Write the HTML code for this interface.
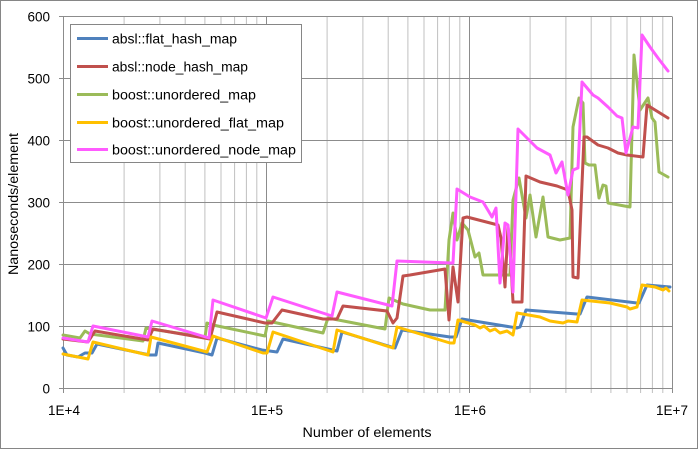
<!DOCTYPE html>
<html><head><meta charset="utf-8"><style>
html,body{margin:0;padding:0;background:#fff;}
svg{display:block;font-family:"Liberation Sans",sans-serif;}
</style></head><body>
<svg width="698" height="449" viewBox="0 0 698 449" xmlns="http://www.w3.org/2000/svg">
<rect x="0.5" y="0.5" width="697" height="448" fill="#fff" stroke="#868686"/>
<!-- minor vertical gridlines -->
<g stroke="#c0c0c0" stroke-width="1">
<line x1="124.1" y1="17" x2="124.1" y2="393"/><line x1="159.9" y1="17" x2="159.9" y2="393"/><line x1="185.2" y1="17" x2="185.2" y2="393"/><line x1="204.9" y1="17" x2="204.9" y2="393"/><line x1="221" y1="17" x2="221" y2="393"/><line x1="234.6" y1="17" x2="234.6" y2="393"/><line x1="246.4" y1="17" x2="246.4" y2="393"/><line x1="256.8" y1="17" x2="256.8" y2="393"/>
<line x1="327.1" y1="17" x2="327.1" y2="393"/><line x1="362.9" y1="17" x2="362.9" y2="393"/><line x1="388.2" y1="17" x2="388.2" y2="393"/><line x1="407.9" y1="17" x2="407.9" y2="393"/><line x1="424" y1="17" x2="424" y2="393"/><line x1="437.6" y1="17" x2="437.6" y2="393"/><line x1="449.4" y1="17" x2="449.4" y2="393"/><line x1="459.8" y1="17" x2="459.8" y2="393"/>
<line x1="530.1" y1="17" x2="530.1" y2="393"/><line x1="565.9" y1="17" x2="565.9" y2="393"/><line x1="591.2" y1="17" x2="591.2" y2="393"/><line x1="610.9" y1="17" x2="610.9" y2="393"/><line x1="627" y1="17" x2="627" y2="393"/><line x1="640.6" y1="17" x2="640.6" y2="393"/><line x1="652.4" y1="17" x2="652.4" y2="393"/><line x1="662.8" y1="17" x2="662.8" y2="393"/>
</g>
<!-- major gridlines -->
<g stroke="#8c8c8c" stroke-width="1">
<line x1="266.5" y1="17" x2="266.5" y2="393"/><line x1="469.5" y1="17" x2="469.5" y2="393"/><line x1="672.5" y1="17" x2="672.5" y2="393"/>
<line x1="59" y1="16.5" x2="672.5" y2="16.5"/><line x1="59" y1="78.5" x2="672.5" y2="78.5"/><line x1="59" y1="140.5" x2="672.5" y2="140.5"/><line x1="59" y1="202.5" x2="672.5" y2="202.5"/><line x1="59" y1="264.5" x2="672.5" y2="264.5"/><line x1="59" y1="326.5" x2="672.5" y2="326.5"/>
<line x1="63.5" y1="16.5" x2="63.5" y2="393"/>
<line x1="59" y1="388.5" x2="672.5" y2="388.5"/>
</g>
<!-- y labels -->
<g font-size="13.5" fill="#000" text-anchor="end">
<text x="50" y="21.5">600</text><text x="50" y="83.5">500</text><text x="50" y="145.5">400</text><text x="50" y="207.5">300</text><text x="50" y="269.5">200</text><text x="50" y="331.5">100</text><text x="50" y="393.5">0</text>
</g>
<g font-size="13.5" fill="#000" text-anchor="middle">
<text x="64" y="415">1E+4</text><text x="267" y="415">1E+5</text><text x="470" y="415">1E+6</text><text x="672" y="415">1E+7</text>
<text x="367" y="437" textLength="129" lengthAdjust="spacingAndGlyphs">Number of elements</text>
<text transform="translate(18,204) rotate(-90)" textLength="142" lengthAdjust="spacingAndGlyphs">Nanoseconds/element</text>
</g>
<g fill="none" stroke-width="3" stroke-linejoin="round" stroke-linecap="round">
<polyline stroke="#9BBB59" points="63,335 80,338 85,331 90,334 143,341 146,328 150,329 205,337 207,323 213,325 265,336 268,321 323,333 328,318 385,329 389,298 403,304 430,310 445,310 449,240 453,213 457,240 462,223 468,230 475,257 479,253 483,275 510,275 513,200 519,178 526,218 530,195 536,237 543,197 548,237 560,240 570,238 573,127 579,98 583,103 585,163 589,165 595,165 599,198 603,185 606,186 608,203 630,207 634,55 637,82 640,110 648,98 652,118 655,122 659,172 668,177"/>
<polyline stroke="#C0504D" points="63,339 88,342 95,331 148,340 153,329 210,339 217,312 265,323 272,323 282,310 323,319 337,319 343,306 387,311 393,323 397,318 403,276 410,275 445,269 449,320 453,267 458,302 463,218 467,217 498,225 501,238 505,287 508,227 510,247 513,302 522,302 526,176 540,182 557,186 568,190 572,210 573,277 578,278 584,137 587,137 598,145 608,148 618,153 627,155 643,157 647,105 668,118"/>
<polyline stroke="#FF5BFF" points="63,338 88,342 93,326 148,337 152,321 209,338 213,300 266,318 273,297 332,316 337,292 392,306 397,261 451,263 453,263 457,189 470,197 483,202 492,217 496,208 500,283 505,223 508,225 513,292 518,129 537,148 550,155 556,173 562,162 568,195 573,170 578,168 582,82 593,95 598,98 608,107 617,116 622,118 626,153 633,127 638,128 642,35 650,47 658,58 668,71"/>
<polyline stroke="#4F81BD" points="63,348 67,355 78,357 85,353 92,353 97,344 150,355 156,355 158,343 205,353 212,355 217,338 262,350 277,352 283,339 337,351 342,332 395,348 402,330 450,337 456,337 462,319 517,328 520,327 526,310 577,314 580,314 587,297 637,303 639,303 647,285 670,287"/>
<polyline stroke="#FFC000" points="63,354 88,359 93,342 148,355 151,337 207,352 213,336 263,353 267,353 273,332 333,352 337,330 393,348 397,327 450,343 454,343 458,320 475,325 480,328 484,326 490,331 495,329 500,333 507,331 513,335 517,313 540,317 550,321 563,323 568,321 577,322 582,300 610,303 627,307 630,309 637,307 642,285 655,287 663,290 666,288 669,291"/>
</g>
<!-- legend -->
<rect x="70.5" y="24.5" width="231" height="138" fill="#fff" stroke="#868686"/>
<g stroke-width="3">
<line x1="77" y1="38.5" x2="108" y2="38.5" stroke="#4F81BD"/>
<line x1="77" y1="66.5" x2="108" y2="66.5" stroke="#C0504D"/>
<line x1="77" y1="94.5" x2="108" y2="94.5" stroke="#9BBB59"/>
<line x1="77" y1="122.5" x2="108" y2="122.5" stroke="#FFC000"/>
<line x1="77" y1="149.5" x2="108" y2="149.5" stroke="#FF5BFF"/>
</g>
<g font-size="13.5" fill="#000">
<text x="112" y="43.5" textLength="125" lengthAdjust="spacingAndGlyphs">absl::flat_hash_map</text>
<text x="112" y="71.5" textLength="136" lengthAdjust="spacingAndGlyphs">absl::node_hash_map</text>
<text x="112" y="99.5" textLength="144" lengthAdjust="spacingAndGlyphs">boost::unordered_map</text>
<text x="112" y="127.5" textLength="172" lengthAdjust="spacingAndGlyphs">boost::unordered_flat_map</text>
<text x="112" y="154.5" textLength="184" lengthAdjust="spacingAndGlyphs">boost::unordered_node_map</text>
</g>
</svg>
</body></html>
